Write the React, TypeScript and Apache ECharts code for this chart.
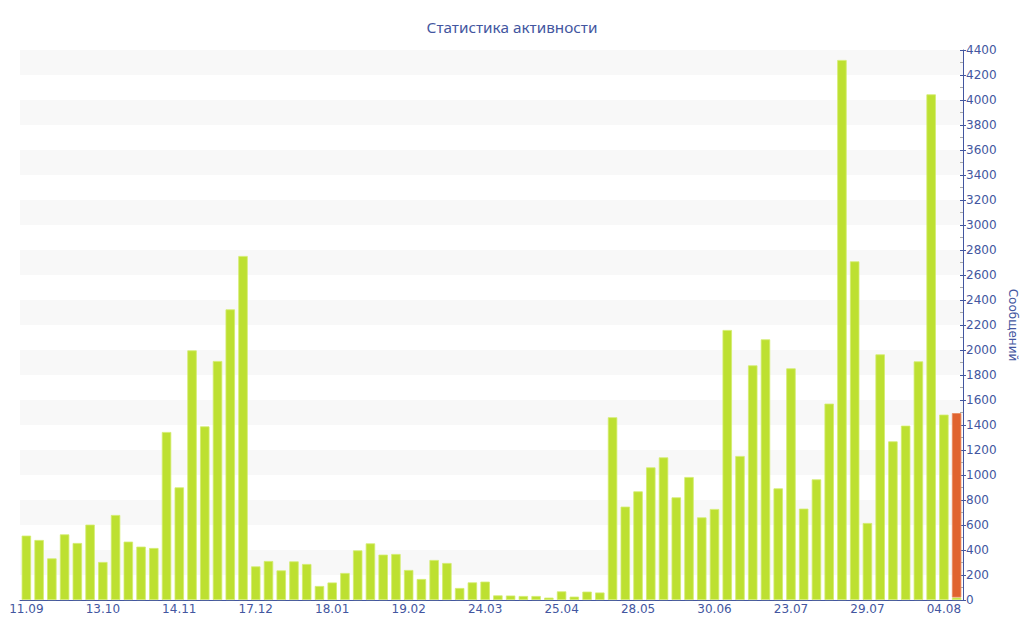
import React, { useEffect, useRef } from "react";
import * as echarts from "echarts";

const shownLabels = ["11.09", "13.10", "14.11", "17.12", "18.01", "19.02", "24.03", "25.04", "28.05", "30.06", "23.07", "29.07", "04.08"];
const labelStep = 6;
const barCount = 74;
const categories: string[] = Array.from({ length: barCount }, (_, i) =>
  i % labelStep === 0 ? shownLabels[i / labelStep] : ""
);

const greenValues = [
  515, 480, 333, 525, 456, 603, 304, 680, 467, 427,
  416, 1344, 901, 1997, 1389, 1912, 2325, 2752, 269, 312,
  237, 309, 288, 112, 140, 216, 397, 453, 363, 368,
  240, 168, 320, 296, 96, 141, 147, 37, 36, 32,
  32, 19, 69, 27, 67, 60, 1462, 747, 869, 1061,
  1141, 821, 984, 661, 728, 2160, 1152, 1877, 2085, 893,
  1853, 731, 965, 1571, 4320, 2709, 616, 1965, 1269, 1395,
  1909, 4045, 1483, 20,
];
const orangeValues = [
  ...Array.from({ length: 73 }, () => null),
  1475,
];

const yTicks = { min: 0, max: 4400, interval: 200 };

export default function App() {
  const ref = useRef<HTMLDivElement>(null);
  useEffect(() => {
    if (!ref.current) return;
    const chart = echarts.init(ref.current, undefined, { renderer: "svg" });
    const blue = "#4356a0";
    chart.setOption({
      animation: false,
      backgroundColor: "#ffffff",
      textStyle: { fontFamily: "DejaVu Sans" },
      title: {
        text: "Статистика активности",
        left: "center",
        top: 14,
        textStyle: { color: blue, fontSize: 15.3, fontWeight: "normal", fontFamily: "Noto Sans" },
      },
      grid: { left: 20, right: 61, top: 50, bottom: 40, containLabel: false, outerBoundsMode: "none" },
      xAxis: {
        type: "category",
        data: categories,
        axisLine: { lineStyle: { color: blue, width: 1 } },
        axisTick: { alignWithLabel: true, interval: labelStep - 1, length: 4, lineStyle: { color: blue } },
        axisLabel: { interval: labelStep - 1, color: blue, fontSize: 12, margin: 3 },
        splitLine: { show: false },
      },
      yAxis: [
        {
          type: "value",
          position: "right",
          min: yTicks.min,
          max: yTicks.max,
          interval: yTicks.interval,
          name: "Сообщений",
          nameLocation: "middle",
          nameGap: 42,
          nameRotate: -90,
          nameTextStyle: { color: blue, fontSize: 12 },
          axisLine: { show: true, lineStyle: { color: blue } },
          axisTick: { show: true, length: 3, inside: true, lineStyle: { color: blue } },
          minorTick: { show: true, splitNumber: 2, length: 3, lineStyle: { color: "#aaaaaa" } },
          axisLabel: { color: blue, fontSize: 12, margin: 3, formatter: (v: number) => String(v) },
          splitLine: { show: false },
          splitArea: { show: true, areaStyle: { color: ["#ffffff", "#f8f8f8"] } },
        },
        {
          type: "value",
          position: "right",
          min: yTicks.min,
          max: yTicks.max,
          interval: yTicks.interval,
          axisLine: { show: false },
          axisTick: { show: true, length: 3, inside: false, lineStyle: { color: blue } },
          axisLabel: { show: false },
          splitLine: { show: false },
          splitArea: { show: false },
        },
      ],
      series: [
        {
          type: "bar",
          stack: "all",
          data: greenValues,
          barCategoryGap: "26%",
          itemStyle: { color: "#bde031", borderColor: "#d3ec6e", borderWidth: 0.8 },
        },
        {
          type: "bar",
          stack: "all",
          data: orangeValues,
          barCategoryGap: "26%",
          itemStyle: { color: "#e0632f", borderColor: "#e88a5e", borderWidth: 0.8 },
        },
      ],
    });
    return () => chart.dispose();
  }, []);
  return <div ref={ref} style={{ width: 1024, height: 640, position: "absolute", left: 0, top: 0 }} />;
}
